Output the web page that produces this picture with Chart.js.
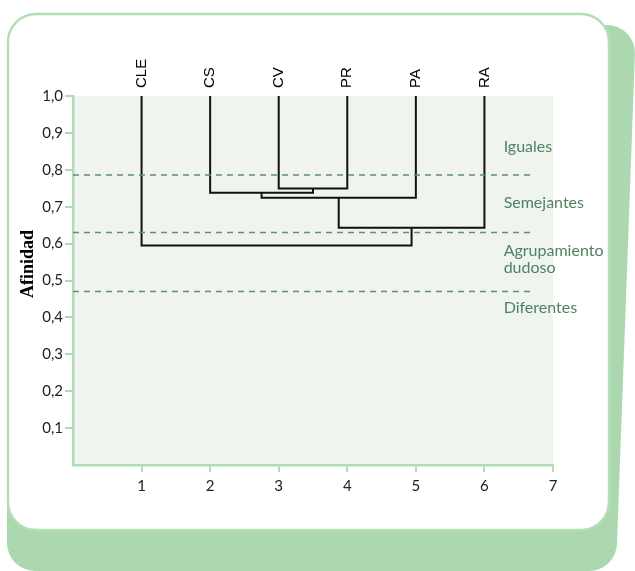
<!DOCTYPE html>
<html>
<head>
<meta charset="utf-8">
<script src="https://cdn.jsdelivr.net/npm/chart.js@4.4.0/dist/chart.umd.min.js"></script>
<style>
  html, body { margin: 0; padding: 0; background: #fff; }
  #wrap { width: 635px; height: 571px; }
</style>
</head>
<body>
<div id="wrap"><canvas id="dendro" width="635" height="571"></canvas></div>
<script>
// Leaves of the dendrogram, left to right
const leaves = ['CLE', 'CS', 'CV', 'PR', 'PA', 'RA'];
const leafPos = [1, 2, 3, 4, 5, 6];

// Merge steps: clusters joined (0-5 = leaves, 6+ = earlier merges) and affinity
const mergeA = [2, 1, 7, 8, 0];
const mergeB = [3, 6, 4, 5, 9];
const mergeHeight = [0.749, 0.738, 0.724, 0.643, 0.595];

// Dashed affinity thresholds and the band names written beside them
const thresholds = [0.786, 0.630, 0.470];
const bandNames = [['Iguales'], ['Semejantes'], ['Agrupamiento', 'dudoso'], ['Diferentes']];
const bandPos = [0.862, 0.710, 0.557, 0.425];

const xTicks = [1, 2, 3, 4, 5, 6, 7];
const yTicks = [0.1, 0.2, 0.3, 0.4, 0.5, 0.6, 0.7, 0.8, 0.9, 1.0];
const dashEnd = 6.68;

const axisGreen = '#b2dcb5';
const tickFont = { family: 'Lato', size: 15 };

// build the U-shaped links of the tree
const nodeX = leafPos.slice();
const nodeY = leaves.map(() => 1.0);
const links = [];
mergeA.forEach((a, i) => {
    const b = mergeB[i];
    const h = mergeHeight[i];
    links.push([
        { x: nodeX[a], y: nodeY[a] },
        { x: nodeX[a], y: h },
        { x: nodeX[b], y: h },
        { x: nodeX[b], y: nodeY[b] }
    ]);
    nodeX.push((nodeX[a] + nodeX[b]) / 2);
    nodeY.push(h);
});

const datasets = [];
thresholds.forEach(t => {
    datasets.push({
        data: [{ x: 0, y: t }, { x: dashEnd, y: t }],
        borderColor: '#5f8e72',
        borderWidth: 1.5,
        borderDash: [6, 5],
        pointRadius: 0
    });
});
links.forEach(pts => {
    datasets.push({
        data: pts,
        borderColor: '#111',
        borderWidth: 2,
        pointRadius: 0,
        tension: 0
    });
});

function roundPoly(ctx, pts, r) {
    ctx.beginPath();
    const n = pts.length;
    const start = [(pts[0][0] + pts[n - 1][0]) / 2, (pts[0][1] + pts[n - 1][1]) / 2];
    ctx.moveTo(start[0], start[1]);
    for (let i = 0; i < n; i++) {
        const p = pts[i];
        const q = pts[(i + 1) % n];
        ctx.arcTo(p[0], p[1], q[0], q[1], r);
    }
    ctx.closePath();
}

// card behind the chart + plot background
const backdrop = {
    id: 'backdrop',
    beforeDraw(chart) {
        const ctx = chart.ctx;
        const area = chart.chartArea;
        ctx.save();
        ctx.fillStyle = '#acd8b0';
        roundPoly(ctx, [[7, 25], [636, 25], [616, 571], [7, 571]], 28);
        ctx.fill();
        ctx.fillStyle = '#fff';
        ctx.strokeStyle = '#b3dfb7';
        ctx.lineWidth = 2.5;
        roundPoly(ctx, [[8, 14], [609, 14], [609, 530], [8, 530]], 28);
        ctx.fill();
        ctx.stroke();
        ctx.fillStyle = '#eff5ee';
        ctx.fillRect(area.left, area.top, area.right - area.left, area.bottom - area.top);
        ctx.restore();
    }
};

// band names and the y title
const notes = {
    id: 'notes',
    afterDraw(chart) {
        const ctx = chart.ctx;
        const y = chart.scales.y;
        const x = chart.scales.x;
        ctx.save();
        ctx.fillStyle = '#4f8262';
        ctx.font = '16px Lato';
        ctx.textAlign = 'left';
        ctx.textBaseline = 'middle';
        bandNames.forEach((lines, i) => {
            const cy = y.getPixelForValue(bandPos[i]);
            const top = cy - (lines.length - 1) * 17 / 2;
            lines.forEach((txt, j) => ctx.fillText(txt, x.getPixelForValue(6.28), top + j * 17));
        });
        ctx.fillStyle = '#000';
        ctx.font = 'bold 18px "Liberation Serif"';
        ctx.translate(28, 264);
        ctx.rotate(-Math.PI / 2);
        ctx.textAlign = 'center';
        ctx.fillText('Afinidad', 0, 0);
        ctx.restore();
    }
};

new Chart(document.getElementById('dendro'), {
    type: 'line',
    data: { datasets: datasets },
    options: {
        responsive: false,
        animation: false,
        devicePixelRatio: 1,
        layout: { padding: { left: 0, right: 82, top: 0, bottom: 0 } },
        plugins: { legend: { display: false }, tooltip: { enabled: false } },
        scales: {
            x: {
                type: 'linear',
                position: 'bottom',
                min: 0,
                max: 7,
                afterBuildTicks: s => { s.ticks = xTicks.map(v => ({ value: v })); },
                afterFit: s => { s.height = 106; },
                border: { color: axisGreen, width: 2.5 },
                grid: { drawOnChartArea: false, color: axisGreen, lineWidth: 2, tickLength: 7 },
                ticks: { font: tickFont, color: '#222', padding: 5, autoSkip: false, maxRotation: 0 }
            },
            x2: {
                type: 'linear',
                position: 'top',
                min: 0,
                max: 7,
                afterBuildTicks: s => { s.ticks = leafPos.map(v => ({ value: v })); },
                afterFit: s => { s.height = 96; },
                border: { display: false },
                grid: { display: false, drawTicks: false },
                ticks: {
                    callback: (v, i) => leaves[i],
                    minRotation: 90,
                    maxRotation: 90,
                    padding: 8,
                    labelOffset: 18,
                    autoSkip: false,
                    font: { family: 'Liberation Sans', size: 15 },
                    color: '#000'
                }
            },
            y: {
                min: 0,
                max: 1,
                afterBuildTicks: s => { s.ticks = yTicks.map(v => ({ value: v })); },
                afterFit: s => { s.width = 73; },
                border: { color: axisGreen, width: 2.5 },
                grid: { drawOnChartArea: false, color: axisGreen, lineWidth: 2, tickLength: 8 },
                ticks: {
                    callback: v => v.toFixed(1).replace('.', ','),
                    font: tickFont,
                    color: '#222',
                    padding: 2
                }
            }
        }
    },
    plugins: [backdrop, notes]
});
</script>
</body>
</html>
